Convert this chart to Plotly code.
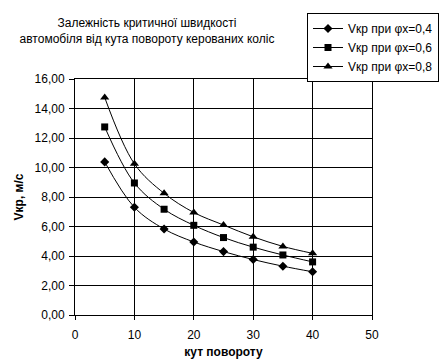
import plotly.graph_objects as go

angles = [5, 10, 15, 20, 25, 30, 35, 40]
v_04 = [10.38, 7.30, 5.83, 4.95, 4.30, 3.76, 3.31, 2.93]
v_06 = [12.75, 8.95, 7.17, 6.08, 5.25, 4.60, 4.07, 3.60]
v_08 = [14.75, 10.25, 8.25, 6.95, 6.10, 5.30, 4.65, 4.18]
names = ["Vкр при φх=0,4", "Vкр при φх=0,6", "Vкр при φх=0,8"]
symbols = ["diamond", "square", "triangle-up"]
sizes = [7, 7, 8]

title_text = "Залежність критичної швидкості<br>автомобіля від кута повороту керованих коліс"
x_title = "кут повороту"
y_title = "Vкр, м/с"

FONT = "Liberation Sans, Arial, sans-serif"

fig = go.Figure()
for ys, nm, sym, sz in zip([v_04, v_06, v_08], names, symbols, sizes):
    fig.add_trace(go.Scatter(
        x=angles, y=ys, name=nm, mode="lines+markers",
        line=dict(color="black", width=1, shape="spline", smoothing=1),
        marker=dict(symbol=sym, size=sz, color="black"),
    ))

fig.update_layout(
    width=441, height=362,
    margin=dict(l=75, r=69, t=79, b=47, autoexpand=False),
    paper_bgcolor="white", plot_bgcolor="white",
    font=dict(family=FONT, size=12, color="black"),
    separators=",.",
    title=dict(text=title_text, x=147/441, xanchor="center", y=1 - 27/362, yanchor="middle",
               font=dict(family=FONT, size=12, color="black")),
    legend=dict(x=(307-75)/297, xanchor="left", y=(315-13)/236, yanchor="top",
                bgcolor="white", bordercolor="black", borderwidth=1,
                font=dict(family=FONT, size=12, color="black"),
                itemwidth=30, tracegroupgap=0),
    showlegend=True,
)
fig.update_xaxes(
    range=[0, 50], dtick=10, tick0=0,
    showgrid=True, gridcolor="black", gridwidth=1,
    showline=True, linecolor="black", linewidth=1, mirror=True,
    ticks="outside", ticklen=4, tickcolor="black",
    ticklabelstandoff=5,
    zeroline=False,
    title=dict(text="<b>" + x_title + "</b>", font=dict(family=FONT, size=12, color="black"), standoff=6),
    tickfont=dict(family=FONT, size=12, color="black"),
    automargin=False,
)
fig.update_yaxes(
    range=[0, 16], dtick=2, tick0=0, tickformat=".2f",
    showgrid=True, gridcolor="black", gridwidth=1,
    showline=True, linecolor="black", linewidth=1, mirror=True,
    ticks="outside", ticklen=5, tickcolor="black",
    ticklabelstandoff=2,
    zeroline=False,
    title=dict(text="<b>" + y_title + "</b>", font=dict(family=FONT, size=12, color="black"), standoff=8),
    tickfont=dict(family=FONT, size=12, color="black"),
    automargin=False,
)

fig.write_html("out.html", config={"displayModeBar": False},
               post_script="document.body.style.margin='0';document.body.style.overflow='hidden';")
